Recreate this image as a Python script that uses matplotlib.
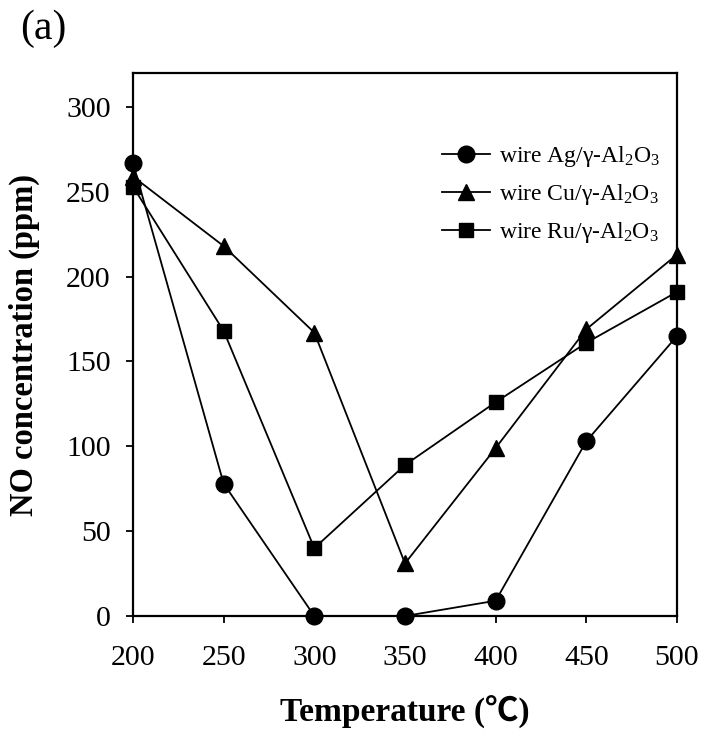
import matplotlib
matplotlib.use("Agg")
import matplotlib.pyplot as plt

temps = [200, 250, 300, 350, 400, 450, 500]
ag = [267, 78, 0, 0, 9, 103, 165]
cu = [259, 218, 167, 31, 99, 169, 213]
ru = [253, 168, 40, 89, 126, 161, 191]
labels = ["wire Ag/γ-Al$_2$O$_3$", "wire Cu/γ-Al$_2$O$_3$", "wire Ru/γ-Al$_2$O$_3$"]
xticks = [200, 250, 300, 350, 400, 450, 500]
yticks = [0, 50, 100, 150, 200, 250, 300]

plt.rcParams['font.family'] = ['Liberation Serif', 'Noto Sans CJK SC']
plt.rcParams['mathtext.fontset'] = 'custom'
plt.rcParams['mathtext.rm'] = 'Liberation Serif'
plt.rcParams['mathtext.it'] = 'Liberation Serif:italic'
plt.rcParams['mathtext.bf'] = 'Liberation Serif:bold'

fig = plt.figure(figsize=(7.04, 7.35), dpi=100)
ax = fig.add_axes([133/704, 1-616/735, (677-133)/704, (616-73)/735])

lw = 1.3
ax.plot(temps, ag, color='black', lw=lw, marker='o', ms=12, clip_on=False, zorder=3, label=labels[0])
ax.plot(temps, cu, color='black', lw=lw, marker='^', ms=11, clip_on=False, zorder=3, label=labels[1])
ax.plot(temps, ru, color='black', lw=lw, marker='s', ms=9.5, clip_on=False, zorder=3, label=labels[2])

ax.set_xlim(200, 500)
ax.set_ylim(0, 320)
ax.set_xticks(xticks)
ax.set_yticks(yticks)
ax.tick_params(axis='both', direction='out', length=5, width=1.3, labelsize=21.5, top=False, right=False)
ax.tick_params(axis='x', pad=16)
ax.tick_params(axis='y', pad=11)
for s in ax.spines.values():
    s.set_linewidth(1.6)

ax.set_xlabel("Temperature (℃)", fontsize=24, fontweight='bold', labelpad=17)
ax.set_ylabel("NO concentration (ppm)", fontsize=23.5, fontweight='bold', labelpad=19)

leg = ax.legend(loc='upper right', bbox_to_anchor=(0.995, 0.895), frameon=False, fontsize=17,
                handlelength=2.0, handletextpad=0.4, labelspacing=0.55, borderaxespad=0.2)

fig.text(20/704, 1-29/735, "(a)", fontsize=30, ha='left', va='center')

fig.savefig("out.png", dpi=100)
